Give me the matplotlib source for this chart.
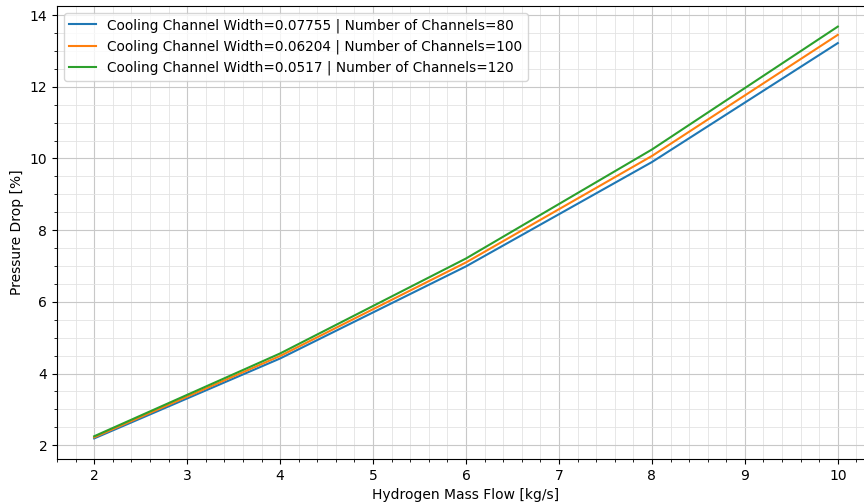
import matplotlib
matplotlib.use('Agg')
import matplotlib.pyplot as plt

mass_flow = [2, 4, 6, 8, 10]

dp_w07755 = [2.19, 4.42, 6.99, 9.90, 13.22]
dp_w06204 = [2.22, 4.49, 7.10, 10.07, 13.45]
dp_w0517 = [2.25, 4.56, 7.21, 10.25, 13.68]

labels = [
    'Cooling Channel Width=0.07755 | Number of Channels=80',
    'Cooling Channel Width=0.06204 | Number of Channels=100',
    'Cooling Channel Width=0.0517 | Number of Channels=120',
]

fig = plt.figure(figsize=(8.64, 5.04), dpi=100)
# the original figure is wider: its right edge is cut off
ax = fig.add_axes([57 / 864, 45 / 504, 818 / 864, 453 / 504])

for series, lab in zip([dp_w07755, dp_w06204, dp_w0517], labels):
    ax.plot(mass_flow, series, label=lab, linewidth=1.5)

ax.set_xlabel('Hydrogen Mass Flow [kg/s]')
ax.set_ylabel('Pressure Drop [%]')
ax.minorticks_on()
ax.grid(which='major', color='#c8c8c8', linewidth=0.8)
ax.grid(which='minor', color='#e3e3e3', linewidth=0.6)
ax.legend(loc='upper left', fontsize=9.8)

fig.savefig('out.png', dpi=100)
